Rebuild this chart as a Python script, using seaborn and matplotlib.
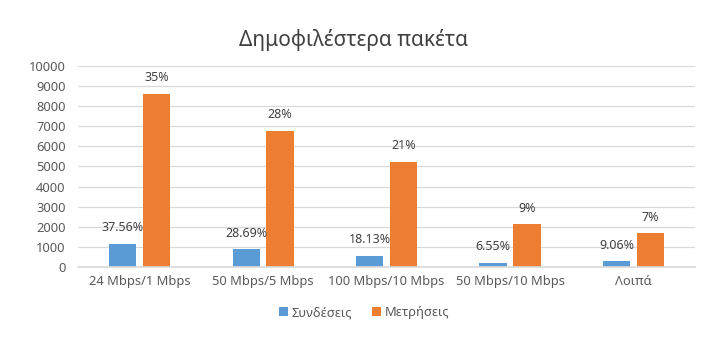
import matplotlib
matplotlib.use("Agg")
import matplotlib.pyplot as plt
import seaborn as sns
import pandas as pd
from matplotlib.patches import Patch

categories = ["24 Mbps/1 Mbps", "50 Mbps/5 Mbps", "100 Mbps/10 Mbps", "50 Mbps/10 Mbps", "Λοιπά"]
series_names = ["Συνδέσεις", "Μετρήσεις"]
connections = [1150, 880, 555, 200, 277]
measurements = [8600, 6780, 5220, 2120, 1680]
connections_labels = ["37.56%", "28.69%", "18.13%", "6.55%", "9.06%"]
measurements_labels = ["35%", "28%", "21%", "9%", "7%"]
yticks = [0, 1000, 2000, 3000, 4000, 5000, 6000, 7000, 8000, 9000, 10000]

df = pd.DataFrame({
    "cat": categories * 2,
    "series": [series_names[0]] * 5 + [series_names[1]] * 5,
    "value": connections + measurements,
})

sns.set_theme(style="white")
plt.rcParams["font.family"] = ["Noto Sans", "DejaVu Sans"]

colors = ["#5B9BD5", "#ED7D31"]
fig = plt.figure(figsize=(7.28, 3.38), dpi=100)
ax = fig.add_axes([0.107, 0.21, 0.848, 0.595])

sns.barplot(data=df, x="cat", y="value", hue="series", palette=colors,
            width=0.55, gap=0.2, ax=ax, legend=False, saturation=1,
            edgecolor="none")

for cont, labs in zip(ax.containers, [connections_labels, measurements_labels]):
    ax.bar_label(cont, labels=labs, padding=7, fontsize=9, color="#404040")

ax.set_ylim(0, 10000)
ax.set_yticks(yticks)
ax.set_yticklabels([str(v) for v in yticks])
ax.set_xlim(-0.5, 4.5)
ax.yaxis.grid(True, color="#D9D9D9", linewidth=0.9)
ax.set_axisbelow(True)
for s in ["top", "right", "left"]:
    ax.spines[s].set_visible(False)
ax.spines["bottom"].set_color("#D9D9D9")
ax.tick_params(axis="both", length=0, labelsize=9.3, labelcolor="#595959")
ax.tick_params(axis="x", pad=6)
ax.tick_params(axis="y", pad=9)
ax.set_xlabel("")
ax.set_ylabel("")

fig.suptitle("Δημοφιλέστερα πακέτα", x=0.485, y=0.915, fontsize=15, color="#404040")

handles = [Patch(facecolor=c, edgecolor="none") for c in colors]
fig.legend(handles, series_names, loc="center", bbox_to_anchor=(0.5, 0.075),
           ncol=2, frameon=False, fontsize=9.3, handlelength=0.7, handleheight=0.7,
           handletextpad=0.3, columnspacing=1.5, labelcolor="#595959")

fig.savefig("out.png", dpi=100, facecolor="white")
